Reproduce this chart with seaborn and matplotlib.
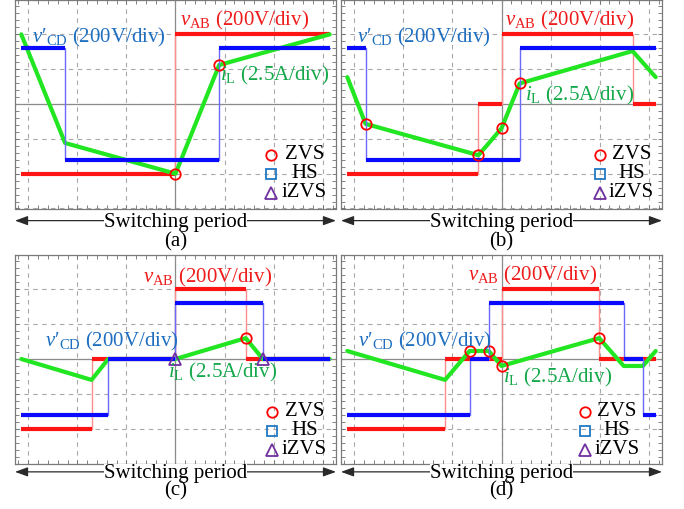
import numpy as np
import pandas as pd
import matplotlib
matplotlib.use("Agg")
import matplotlib.pyplot as plt
from matplotlib.ticker import MultipleLocator
import seaborn as sns

PI = np.pi

# ---- waveform data (phase in rad, amplitude in divisions) ----
# (a)
a_vab_edges = [-PI, 0.0, PI]
a_vab_levels = [-2.0, 2.0]
a_vcd_edges = [-PI, -2.25, 0.89, PI]
a_vcd_levels = [1.6, -1.6, 1.6]
a_il_phase = [-PI, -2.25, 0.0, 0.89, PI]
a_il_value = [2.0, -1.12, -2.0, 1.12, 2.0]
a_zvs = [2, 3]
a_izvs = []

# (b)
b_vab_edges = [-PI, -0.47, 0.0, 2.67, PI]
b_vab_levels = [-2.0, 0.0, 2.0, 0.0]
b_vcd_edges = [-PI, -2.77, 0.37, PI]
b_vcd_levels = [1.6, -1.6, 1.6]
b_il_phase = [-PI, -2.77, -0.47, 0.0, 0.37, 2.67, PI]
b_il_value = [0.77, -0.57, -1.47, -0.70, 0.59, 1.52, 0.77]
b_zvs = [1, 2, 3, 4]
b_izvs = []

# (c)
c_vab_edges = [-PI, -1.71, 0.0, 1.43, PI]
c_vab_levels = [-2.0, 0.0, 2.0, 0.0]
c_vcd_edges = [-PI, -1.37, 0.0, 1.78, PI]
c_vcd_levels = [-1.6, 0.0, 1.6, 0.0]
c_il_phase = [-PI, -1.71, -1.37, 0.0, 1.43, 1.78, PI]
c_il_value = [0.0, -0.6, 0.0, 0.0, 0.6, 0.0, 0.0]
c_zvs = [4]
c_izvs = [3, 5]

# (d)
d_vab_edges = [-PI, -1.15, 0.0, 1.99, PI]
d_vab_levels = [-2.0, 0.0, 2.0, 0.0]
d_vcd_edges = [-PI, -0.65, -0.26, 2.49, 2.88, PI]
d_vcd_levels = [-1.6, 0.0, 1.6, 0.0, -1.6]
d_il_phase = [-PI, -1.15, -0.65, -0.26, 0.0, 1.99, 2.49, 2.88, PI]
d_il_value = [0.23, -0.6, 0.23, 0.23, -0.2, 0.6, -0.2, -0.2, 0.23]
d_zvs = [2, 3, 4, 5]
d_izvs = []

panel_tags = ["(a)", "(b)", "(c)", "(d)"]
legend_labels = ["ZVS", "HS", "iZVS"]
vab_text = r"$v_{\mathrm{AB}}$ (200V/div)"
vcd_text = r"$v\prime_{\mathrm{CD}}$ (200V/div)"
il_text = r"$i_{\mathrm{L}}$ (2.5A/div)"
period_text = "Switching period"

# ---- styling ----
sns.set_theme(style="white")
plt.rcParams["font.family"] = ["Liberation Serif", "DejaVu Serif"]
plt.rcParams["mathtext.fontset"] = "custom"
plt.rcParams["mathtext.rm"] = "Liberation Serif"
plt.rcParams["mathtext.it"] = "Liberation Serif:italic"
plt.rcParams["mathtext.bf"] = "Liberation Serif:bold"

RED = "#ff1414"
RED_THIN = "#ff8c8c"
RED_TXT = "#ee1c1c"
BLUE = "#0a0aff"
BLUE_THIN = "#6a6aff"
BLUE_TXT = "#1f6fc0"
GREEN = "#22e622"
GREEN_TXT = "#14a84a"
SQ = "#1f78c4"
TRI = "#7030a0"
FS = 15

W, H = 684, 509


def rect(left_px, top_px, w_px=321, h_px=209):
    return [left_px / W, 1 - (top_px + h_px) / H, w_px / W, h_px / H]


layouts = [
    dict(rect=rect(15, -0.5), vab=(0.09, 2.25), vcd=(-2.92, 1.76), il=(0.90, 0.67),
         leg=(1.94, 2.63, -1.46), arrow=-0.058, ptxt=-0.089, tag=-0.160),
    dict(rect=rect(341, -0.5), vab=(0.07, 2.25), vcd=(-2.94, 1.76), il=(0.48, 0.10),
         leg=(2.00, 2.65, -1.46), arrow=-0.058, ptxt=-0.089, tag=-0.160),
    dict(rect=rect(15, 254.5), vab=(-0.66, 2.21), vcd=(-2.65, 0.35), il=(-0.15, -0.52),
         leg=(1.96, 2.63, -1.52), arrow=-0.040, ptxt=-0.068, tag=-0.132),
    dict(rect=rect(341, 254.5), vab=(-0.68, 2.24), vcd=(-2.92, 0.35), il=(0.03, -0.68),
         leg=(1.70, 2.35, -1.52), arrow=-0.040, ptxt=-0.068, tag=-0.132),
]

panels = [
    (a_vab_edges, a_vab_levels, a_vcd_edges, a_vcd_levels, a_il_phase, a_il_value, a_zvs, a_izvs),
    (b_vab_edges, b_vab_levels, b_vcd_edges, b_vcd_levels, b_il_phase, b_il_value, b_zvs, b_izvs),
    (c_vab_edges, c_vab_levels, c_vcd_edges, c_vcd_levels, c_il_phase, c_il_value, c_zvs, c_izvs),
    (d_vab_edges, d_vab_levels, d_vcd_edges, d_vcd_levels, d_il_phase, d_il_value, d_zvs, d_izvs),
]


def square_wave(ax, edges, levels, thick_color, thin_color, z):
    # thin switching edges underneath, thick flat segments on top
    ax.step(edges, list(levels) + [levels[-1]], where="post",
            color=thin_color, lw=1.0, zorder=z)
    ax.hlines(levels, edges[:-1], edges[1:], colors=thick_color, lw=3.0,
              zorder=z + 0.5, capstyle="butt")


fig = plt.figure(figsize=(W / 100, H / 100), dpi=100)

for tag, data, lay in zip(panel_tags, panels, layouts):
    vab_e, vab_l, vcd_e, vcd_l, il_x, il_y, zvs, izvs = data
    ax = fig.add_axes(lay["rect"])
    ax.set_xlim(-3.27, 3.27)
    ax.set_ylim(-3, 3)

    # scope graticule
    ax.xaxis.set_major_locator(MultipleLocator(1))
    ax.yaxis.set_major_locator(MultipleLocator(1))
    ax.xaxis.set_minor_locator(MultipleLocator(0.2))
    ax.yaxis.set_minor_locator(MultipleLocator(0.2))
    ax.tick_params(which="both", direction="in", length=3, width=0.6,
                   color="#6e6e6e", top=True, right=True, bottom=True, left=True,
                   labelbottom=False, labelleft=False)
    ax.grid(True, which="major", linestyle=(0, (4, 4)), color="#a8a8a8", lw=0.8, zorder=0)
    ax.axhline(0, color="#8c8c8c", lw=0.9, zorder=1)
    ax.axvline(0, color="#8c8c8c", lw=0.9, zorder=1)
    for s in ax.spines.values():
        s.set_color("#7a7a7a")
        s.set_linewidth(0.9)

    # waveforms
    square_wave(ax, vab_e, vab_l, RED, RED_THIN, 2)
    il_df = pd.DataFrame({"phase": il_x, "current": il_y})
    sns.lineplot(data=il_df, x="phase", y="current", sort=False, estimator=None,
                 color=GREEN, lw=3.0, ax=ax, zorder=3.8)
    square_wave(ax, vcd_e, vcd_l, BLUE, BLUE_THIN, 4)
    ax.set_xlabel("")
    ax.set_ylabel("")

    # switching-event markers on the current trace
    if zvs:
        ax.plot([il_x[i] for i in zvs], [il_y[i] for i in zvs], ls="none",
                marker="o", ms=7.5, mfc="none", mec="#ff0000", mew=1.3, zorder=6)
    if izvs:
        ax.plot([il_x[i] for i in izvs], [il_y[i] for i in izvs], ls="none",
                marker="^", ms=8, mfc="none", mec=TRI, mew=1.3, zorder=6)

    # trace labels
    ax.text(*lay["vab"], vab_text, color=RED_TXT, fontsize=FS, ha="left", va="baseline", zorder=7)
    ax.text(*lay["vcd"], vcd_text, color=BLUE_TXT, fontsize=FS, ha="left", va="baseline", zorder=7)
    ax.text(*lay["il"], il_text, color=GREEN_TXT, fontsize=FS, ha="left", va="baseline", zorder=7)

    # marker key
    mx, tx, y0 = lay["leg"]
    dy = 0.545
    key = [("o", "#ff0000", 7.5), ("s", SQ, 6.5), ("^", TRI, 8)]
    for i, ((mk, col, ms), lab) in enumerate(zip(key, legend_labels)):
        yy = y0 - i * dy
        ax.plot([mx], [yy], ls="none", marker=mk, ms=ms, mfc="none", mec=col,
                mew=1.3, zorder=7)
        ax.text(tx, yy, lab, fontsize=FS, ha="center", va="center", color="black", zorder=7)

    # switching-period span arrow and panel tag
    ya = lay["arrow"]
    ax.annotate("", xy=(1.0, ya), xytext=(0.0, ya), xycoords="axes fraction",
                textcoords="axes fraction", annotation_clip=False,
                arrowprops=dict(arrowstyle="<|-|>,head_length=0.55,head_width=0.2",
                                color="#2a2a2a", lw=0.9, shrinkA=0, shrinkB=0,
                                mutation_scale=14))
    ax.text(0.5, lay["ptxt"], period_text, transform=ax.transAxes, fontsize=FS,
            ha="center", va="baseline", color="black", zorder=8,
            bbox=dict(fc="white", ec="none", pad=0.2))
    ax.text(0.5, lay["tag"], tag, transform=ax.transAxes, fontsize=FS,
            ha="center", va="center", color="black", zorder=9)

fig.savefig("out.png", dpi=100)
